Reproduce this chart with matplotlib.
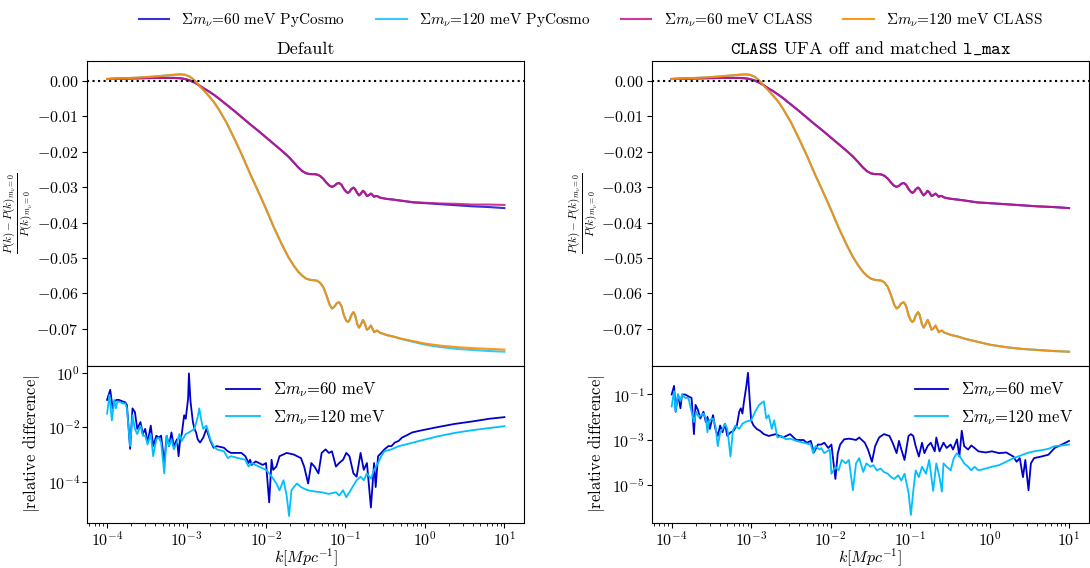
import numpy as np
import matplotlib
matplotlib.use('Agg')
import matplotlib.pyplot as plt
from matplotlib.ticker import FuncFormatter, LogLocator, NullLocator

plt.rcParams['font.family'] = 'serif'
plt.rcParams['font.serif'] = ['cmr10', 'DejaVu Serif']
plt.rcParams['mathtext.fontset'] = 'cm'
plt.rcParams['axes.formatter.use_mathtext'] = True
plt.rcParams['axes.unicode_minus'] = False

# ---- top panels: (P(k) - P(k)_{m_nu=0}) / P(k)_{m_nu=0} ----
lgk_top = [-4.00, -3.80, -3.60, -3.40, -3.25, -3.15, -3.08, -3.02, -2.96, -2.90,
           -2.84, -2.78, -2.72, -2.66, -2.60, -2.50, -2.40, -2.30, -2.20, -2.10,
           -2.00, -1.90, -1.80, -1.72, -1.65, -1.59, -1.54, -1.49, -1.44, -1.40,
           -1.36, -1.32, -1.28, -1.24, -1.20, -1.17, -1.14, -1.11, -1.08, -1.05,
           -1.02, -0.99, -0.97, -0.95, -0.93, -0.90, -0.88, -0.85, -0.83, -0.81,
           -0.78, -0.76, -0.73, -0.71, -0.68, -0.66, -0.64, -0.62, -0.60, -0.57,
           -0.53, -0.48, -0.40, -0.30, -0.15, 0.00, 0.20, 0.40, 0.60, 0.80,
           1.00]

class60_default = [0.0006, 0.0007, 0.0008, 0.0009, 0.0009, 0.0009, 0.0008, 0.0006, 0.0002, -0.0004,
                   -0.0012, -0.0021, -0.0029, -0.0038, -0.0048, -0.0066, -0.0084, -0.0103, -0.0122, -0.0140,
                   -0.0159, -0.0178, -0.0197, -0.0213, -0.0230, -0.0245, -0.0255, -0.0261, -0.0263, -0.0263,
                   -0.0264, -0.0268, -0.0276, -0.0287, -0.0296, -0.0299, -0.0296, -0.0290, -0.0288, -0.0293,
                   -0.0305, -0.0313, -0.0316, -0.0313, -0.0306, -0.0301, -0.0305, -0.0317, -0.0323, -0.0319,
                   -0.0310, -0.0314, -0.0325, -0.0323, -0.0318, -0.0322, -0.0327, -0.0325, -0.0325, -0.0329,
                   -0.0331, -0.0333, -0.0335, -0.0338, -0.0342, -0.0344, -0.0346, -0.0347, -0.0349, -0.0349,
                   -0.0350]

pycosmo60 = class60_default[:63] + [-0.0338, -0.0343, -0.0345, -0.0348, -0.0351, -0.0354, -0.0356, -0.0359]

class120_default = [0.0006, 0.0008, 0.0010, 0.0013, 0.0016, 0.0018, 0.0019, 0.0018, 0.0013, 0.0002,
                    -0.0013, -0.0027, -0.0042, -0.0058, -0.0078, -0.0116, -0.0162, -0.0210, -0.0262, -0.0311,
                    -0.0361, -0.0414, -0.0462, -0.0497, -0.0522, -0.0540, -0.0551, -0.0559, -0.0562, -0.0563,
                    -0.0564, -0.0570, -0.0582, -0.0605, -0.0632, -0.0643, -0.0638, -0.0628, -0.0625, -0.0636,
                    -0.0662, -0.0677, -0.0681, -0.0676, -0.0663, -0.0653, -0.0661, -0.0688, -0.0697, -0.0690,
                    -0.0675, -0.0684, -0.0703, -0.0700, -0.0691, -0.0700, -0.0710, -0.0707, -0.0705, -0.0711,
                    -0.0714, -0.0718, -0.0722, -0.0728, -0.0735, -0.0742, -0.0748, -0.0752, -0.0755, -0.0757,
                    -0.0759]

pycosmo120 = class120_default[:63] + [-0.0729, -0.0737, -0.0745, -0.0752, -0.0757, -0.0760, -0.0763, -0.0765]

# with UFA off and matched l_max the CLASS curves sit on the PyCosmo ones
class60_matched = pycosmo60
class120_matched = pycosmo120

# ---- bottom panels: log10 |relative difference| ----
lgk_rd60_a = [-4.00, -3.98, -3.96, -3.93, -3.91, -3.88, -3.85, -3.80, -3.77, -3.75,
              -3.71, -3.68, -3.65, -3.62, -3.58, -3.55, -3.52, -3.49, -3.45, -3.42,
              -3.38, -3.35, -3.32, -3.28, -3.25, -3.22, -3.19, -3.16, -3.12, -3.10,
              -3.08, -3.06, -3.03, -3.01, -2.98, -2.97, -2.95, -2.92, -2.90, -2.88,
              -2.86, -2.83, -2.79, -2.75, -2.70, -2.66, -2.62, -2.53, -2.48, -2.44,
              -2.40, -2.31, -2.26, -2.22, -2.20, -2.18, -2.13, -2.09, -2.04, -2.00,
              -1.96, -1.93, -1.91, -1.87, -1.83, -1.74, -1.65, -1.56, -1.52, -1.47,
              -1.43, -1.39, -1.34, -1.30, -1.25, -1.21, -1.17, -1.12, -1.08, -1.03,
              -0.99, -0.95, -0.90, -0.86, -0.81, -0.77, -0.73, -0.68, -0.64, -0.62,
              -0.59, -0.55, -0.51, -0.46, -0.42, -0.38, -0.33, -0.29, -0.24, -0.20,
              -0.16, -0.07, 0.15, 0.37, 0.59, 0.81, 1.00]
lgrd60_a = [-1.00, -0.81, -0.63, -1.31, -1.06, -1.00, -1.00, -1.06, -1.09, -1.19,
            -2.79, -1.31, -1.44, -2.06, -1.81, -2.25, -2.06, -2.56, -1.94, -2.69,
            -2.31, -2.38, -2.31, -3.31, -2.31, -2.69, -2.19, -2.69, -2.44, -3.06,
            -2.44, -2.25, -1.56, -1.69, -0.94, -0.03, -1.06, -1.81, -2.06, -2.19,
            -2.44, -2.56, -2.38, -2.06, -2.50, -2.75, -2.69, -2.75, -2.88, -2.94,
            -2.94, -2.94, -3.06, -3.31, -3.19, -3.38, -3.25, -3.31, -3.38, -3.31,
            -4.75, -3.19, -3.56, -3.44, -3.06, -2.94, -3.00, -3.13, -3.44, -4.06,
            -3.31, -3.44, -3.69, -2.94, -2.81, -2.94, -2.88, -3.44, -3.31, -3.19,
            -2.94, -3.06, -3.69, -3.81, -2.94, -3.56, -3.31, -4.94, -3.31, -4.19,
            -3.06, -2.94, -2.81, -2.69, -2.69, -2.56, -2.50, -2.38, -2.31, -2.25,
            -2.19, -2.13, -2.00, -1.88, -1.79, -1.69, -1.63]

lgk_rd120_a = [-4.00, -3.97, -3.94, -3.91, -3.89, -3.87, -3.85, -3.80, -3.77, -3.75,
               -3.71, -3.68, -3.65, -3.62, -3.58, -3.55, -3.52, -3.49, -3.45, -3.42,
               -3.38, -3.35, -3.32, -3.28, -3.25, -3.22, -3.19, -3.16, -3.12, -3.09,
               -3.06, -3.01, -2.97, -2.90, -2.86, -2.84, -2.81, -2.79, -2.75, -2.70,
               -2.66, -2.62, -2.53, -2.48, -2.44, -2.35, -2.26, -2.22, -2.18, -2.09,
               -2.00, -1.96, -1.91, -1.87, -1.83, -1.78, -1.74, -1.71, -1.68, -1.65,
               -1.61, -1.56, -1.52, -1.47, -1.39, -1.30, -1.21, -1.12, -1.08, -1.03,
               -0.99, -0.95, -0.90, -0.86, -0.81, -0.77, -0.73, -0.68, -0.64, -0.59,
               -0.55, -0.51, -0.42, -0.33, -0.24, -0.07, 0.15, 0.37, 0.59, 0.81, 1.00]
lgrd120_a = [-1.50, -0.81, -1.75, -1.00, -1.31, -1.06, -1.06, -1.13, -1.13, -1.31,
             -2.69, -1.56, -2.06, -2.25, -1.94, -2.31, -2.31, -2.63, -2.25, -3.06,
             -2.44, -2.38, -2.56, -3.69, -2.31, -2.69, -2.44, -2.81, -2.56, -2.25,
             -2.50, -2.25, -2.19, -2.06, -1.63, -1.31, -1.81, -2.06, -1.94, -2.44,
             -2.69, -2.81, -2.88, -3.13, -3.06, -3.13, -3.19, -3.44, -3.31, -3.44,
             -3.56, -3.69, -3.88, -4.06, -4.31, -3.94, -4.50, -5.25, -4.31, -4.19,
             -4.06, -4.19, -4.25, -4.31, -4.35, -4.38, -4.44, -4.38, -4.50, -4.31,
             -4.56, -4.38, -4.13, -3.94, -3.81, -3.94, -3.69, -3.88, -3.56, -3.31,
             -3.06, -2.88, -2.81, -2.69, -2.63, -2.50, -2.34, -2.21, -2.11, -2.03, -1.96]

lgk_rd60_b = [-4.00, -3.97, -3.95, -3.92, -3.89, -3.87, -3.83, -3.79, -3.75, -3.72,
              -3.70, -3.67, -3.64, -3.60, -3.57, -3.55, -3.52, -3.48, -3.45, -3.42,
              -3.39, -3.36, -3.33, -3.30, -3.26, -3.22, -3.18, -3.15, -3.13, -3.11,
              -3.09, -3.06, -3.04, -3.02, -3.00, -2.97, -2.93, -2.89, -2.84, -2.78,
              -2.69, -2.60, -2.51, -2.45, -2.43, -2.34, -2.30, -2.25, -2.21, -2.16,
              -2.12, -2.08, -2.03, -1.99, -1.94, -1.91, -1.88, -1.83, -1.77, -1.72,
              -1.68, -1.64, -1.57, -1.53, -1.48, -1.44, -1.39, -1.33, -1.26, -1.22,
              -1.17, -1.14, -1.11, -1.07, -1.02, -0.99, -0.96, -0.93, -0.89, -0.85,
              -0.82, -0.78, -0.74, -0.69, -0.67, -0.63, -0.58, -0.54, -0.49, -0.46,
              -0.41, -0.38, -0.35, -0.32, -0.27, -0.23, -0.19, -0.14, -0.05, 0.03,
              0.12, 0.21, 0.30, 0.34, 0.38, 0.42, 0.45, 0.49, 0.52, 0.56,
              0.65, 0.74, 0.82, 0.91, 1.00]
lgrd60_b = [-1.00, -0.62, -1.76, -1.00, -1.61, -1.00, -1.00, -1.08, -1.15, -2.75,
            -1.46, -1.68, -2.06, -1.76, -2.22, -1.99, -2.52, -1.91, -2.52, -2.83,
            -2.37, -2.67, -2.29, -2.83, -2.67, -2.60, -2.37, -1.76, -1.61, -1.84,
            -1.30, -0.62, -0.04, -1.15, -2.14, -2.37, -2.52, -2.60, -2.75, -2.83,
            -2.75, -2.90, -2.75, -2.95, -3.01, -3.01, -3.13, -3.05, -3.56, -3.21,
            -3.21, -3.13, -3.36, -3.21, -4.73, -3.59, -3.21, -2.98, -2.95, -2.98,
            -3.01, -2.90, -3.13, -3.43, -3.97, -3.28, -2.90, -2.75, -2.83, -3.13,
            -3.59, -3.05, -3.43, -3.89, -2.83, -2.75, -2.83, -3.28, -3.74, -3.13,
            -3.59, -3.28, -3.13, -3.51, -2.90, -3.51, -3.13, -3.36, -3.21, -3.43,
            -2.98, -3.74, -2.60, -3.28, -3.43, -3.25, -3.36, -3.51, -3.56, -3.51,
            -3.59, -3.56, -3.74, -3.97, -3.81, -4.65, -3.89, -5.23, -4.04, -3.81,
            -3.74, -3.66, -3.36, -3.21, -3.05]

lgk_rd120_b = [-4.00, -3.97, -3.95, -3.92, -3.89, -3.87, -3.83, -3.79, -3.72, -3.69,
               -3.66, -3.60, -3.57, -3.55, -3.53, -3.48, -3.45, -3.42, -3.39, -3.36,
               -3.33, -3.30, -3.26, -3.23, -3.20, -3.15, -3.11, -3.06, -3.00, -2.95,
               -2.90, -2.84, -2.81, -2.78, -2.74, -2.71, -2.67, -2.62, -2.56, -2.51,
               -2.43, -2.34, -2.25, -2.22, -2.19, -2.14, -2.12, -2.08, -2.01, -1.99,
               -1.94, -1.90, -1.86, -1.81, -1.77, -1.72, -1.68, -1.64, -1.59, -1.55,
               -1.50, -1.46, -1.42, -1.37, -1.33, -1.28, -1.24, -1.20, -1.15, -1.11,
               -1.07, -1.02, -0.99, -0.96, -0.93, -0.89, -0.85, -0.80, -0.76, -0.71,
               -0.67, -0.63, -0.60, -0.58, -0.54, -0.49, -0.45, -0.41, -0.36, -0.32,
               -0.27, -0.23, -0.19, -0.14, -0.05, 0.03, 0.12, 0.21, 0.30, 0.38,
               0.47, 0.56, 0.65, 0.74, 0.82, 0.91, 1.00]
lgrd120_b = [-1.53, -0.85, -1.76, -1.00, -1.30, -1.00, -1.15, -1.15, -2.22, -1.76,
             -1.99, -1.84, -2.06, -2.67, -2.14, -2.06, -2.37, -3.28, -2.67, -2.52,
             -2.29, -2.52, -3.74, -2.60, -2.37, -2.52, -2.29, -2.19, -2.14, -1.76,
             -1.46, -1.30, -2.06, -1.91, -2.52, -2.14, -2.90, -2.83, -2.98, -2.95,
             -3.05, -3.13, -3.21, -3.59, -3.28, -3.43, -3.36, -3.59, -3.43, -4.50,
             -4.19, -4.35, -3.89, -4.04, -3.89, -5.23, -4.04, -3.81, -4.42, -4.04,
             -4.19, -4.12, -4.35, -4.27, -4.42, -4.50, -4.65, -4.73, -4.57, -4.80,
             -4.50, -5.33, -6.32, -5.26, -4.35, -4.65, -4.19, -4.50, -3.89, -5.26,
             -4.04, -4.65, -5.29, -4.04, -4.19, -4.35, -3.81, -3.59, -3.81, -4.04,
             -4.19, -4.35, -4.19, -4.35, -4.27, -4.19, -4.12, -3.97, -3.81, -3.71,
             -3.59, -3.51, -3.46, -3.40, -3.28, -3.25, -3.21]

c60, c120 = 'mediumblue', 'deepskyblue'
cc60, cc120 = 'mediumvioletred', 'darkorange'

fig = plt.figure(figsize=(10.9, 5.68), dpi=100)

def ytick_fmt(v, pos):
    return '$%.2f$' % v

panels = [
    dict(x0=0.080, title='Default', c60=class60_default, c120=class120_default,
         rd=[(lgk_rd60_a, lgrd60_a), (lgk_rd120_a, lgrd120_a)],
         ylim=(10**-5.51, 10**0.26), yt=[1e-4, 1e-2, 1e0], legloc='upper center'),
    dict(x0=0.598, title=r'$\mathtt{CLASS}$ UFA off and matched $\mathtt{l\_max}$',
         c60=class60_matched, c120=class120_matched,
         rd=[(lgk_rd60_b, lgrd60_b), (lgk_rd120_b, lgrd120_b)],
         ylim=(10**-6.68, 10**0.28), yt=[1e-5, 1e-3, 1e-1], legloc='upper right'),
]

k_top = 10**np.array(lgk_top)
handles = None
for p in panels:
    ax1 = fig.add_axes([p['x0'], 0.3565, 0.401, 0.5365])
    ax2 = fig.add_axes([p['x0'], 0.079, 0.401, 0.2775], sharex=ax1)

    h1, = ax1.plot(k_top, pycosmo60, color=c60, lw=1.5, alpha=0.8, label=r'$\Sigma m_\nu$=60 meV PyCosmo')
    h2, = ax1.plot(k_top, pycosmo120, color=c120, lw=1.5, alpha=0.8, label=r'$\Sigma m_\nu$=120 meV PyCosmo')
    h3, = ax1.plot(k_top, p['c60'], color=cc60, lw=1.5, alpha=0.85, label=r'$\Sigma m_\nu$=60 meV CLASS')
    h4, = ax1.plot(k_top, p['c120'], color=cc120, lw=1.5, alpha=0.9, label=r'$\Sigma m_\nu$=120 meV CLASS')
    handles = [h1, h2, h3, h4]
    ax1.axhline(0, color='k', ls=':', lw=1.5)
    ax1.set_xscale('log')
    ax1.set_xlim(10**-4.25, 10**1.25)
    ax1.set_ylim(-0.0804, 0.00575)
    ax1.set_yticks([0.0, -0.01, -0.02, -0.03, -0.04, -0.05, -0.06, -0.07])
    ax1.yaxis.set_major_formatter(FuncFormatter(ytick_fmt))
    ax1.tick_params(labelbottom=False, labelsize=11.5, pad=2.5)
    ax1.set_ylabel(r'$\frac{P(k)-P(k)_{m_\nu=0}}{P(k)_{m_\nu=0}}$', fontsize=11.5, labelpad=1)
    ax1.set_title(p['title'], fontsize=13, pad=5)

    (k60, r60), (k120, r120) = p['rd']
    ax2.plot(10**np.array(k60), 10**np.array(r60), color=c60, lw=1.3, label=r'$\Sigma m_\nu$=60 meV')
    ax2.plot(10**np.array(k120), 10**np.array(r120), color=c120, lw=1.3, label=r'$\Sigma m_\nu$=120 meV')
    ax2.set_yscale('log')
    ax2.set_ylim(*p['ylim'])
    ax2.set_yticks(p['yt'])
    ax2.yaxis.set_minor_locator(NullLocator())
    ax2.xaxis.set_major_locator(LogLocator(base=10, numticks=10))
    ax2.tick_params(labelsize=11.5, pad=1.5)
    ax2.set_xlabel(r'$k[Mpc^{-1}]$', fontsize=11.5, labelpad=-1)
    ax2.set_ylabel(r'$|$relative difference$|$', fontsize=12, labelpad=4)
    ax2.legend(loc=p['legloc'], frameon=False, fontsize=12)

fig.legend(handles=handles, loc='upper center', bbox_to_anchor=(0.542, 1.005), ncol=4,
           frameon=False, fontsize=11, columnspacing=2.0)

fig.savefig('out.png', dpi=100)
